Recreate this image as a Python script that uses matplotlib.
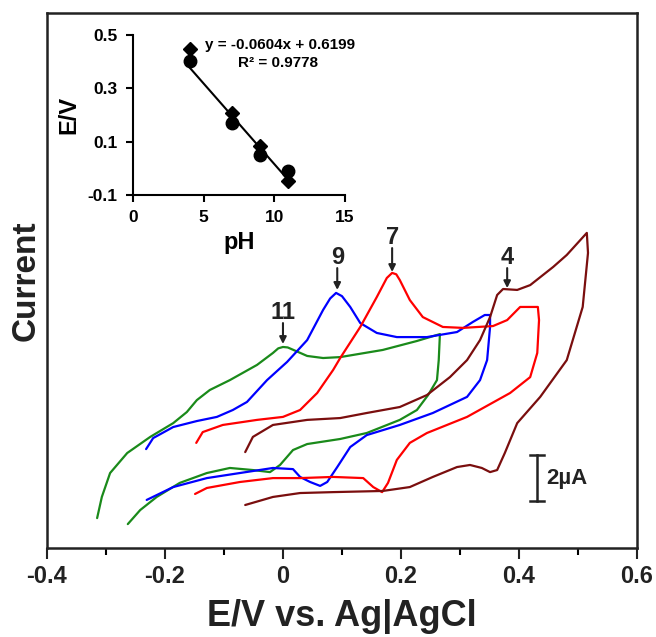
import numpy as np
import matplotlib
matplotlib.use('Agg')
import matplotlib.pyplot as plt

plt.rcParams['font.family'] = ['Liberation Sans', 'DejaVu Sans']
plt.rcParams['font.weight'] = 'bold'

# CV curves: potential (V vs Ag|AgCl) and current (uA, arbitrary offset)
E_pH11 = [-0.315, -0.307, -0.293, -0.264, -0.225, -0.186, -0.163, -0.146, -0.124, -0.090,
          -0.044, -0.017, -0.008, 0.000, 0.008, 0.017, 0.041, 0.068, 0.097, 0.169, 0.227, 0.266,
          0.264, 0.261, 0.246, 0.227, 0.198, 0.142, 0.097, 0.041, 0.017, -0.005,
          -0.022, -0.051, -0.090, -0.129, -0.175, -0.214, -0.242, -0.263]
I_pH11 = [1.30, 2.22, 3.26, 4.13, 4.83, 5.43, 5.91, 6.43, 6.87, 7.30,
          7.96, 8.48, 8.68, 8.74, 8.72, 8.62, 8.35, 8.26, 8.30, 8.61, 9.00, 9.30,
          8.17, 7.30, 6.65, 6.00, 5.57, 5.00, 4.74, 4.52, 4.26, 3.61,
          3.30, 3.39, 3.48, 3.26, 2.83, 2.22, 1.65, 1.04]

E_pH9 = [-0.232, -0.220, -0.186, -0.146, -0.112, -0.085, -0.061, -0.027, 0.007, 0.041,
         0.068, 0.080, 0.090, 0.100, 0.114, 0.131, 0.159, 0.193, 0.244, 0.295, 0.322, 0.342, 0.351,
         0.351, 0.346, 0.334, 0.312, 0.254, 0.198, 0.142, 0.114, 0.092, 0.075,
         0.063, 0.046, 0.029, 0.017, -0.017, -0.073, -0.129, -0.186, -0.231]
I_pH9 = [4.30, 4.78, 5.26, 5.52, 5.70, 6.00, 6.35, 7.30, 8.09, 9.04,
         10.35, 10.85, 11.09, 10.95, 10.48, 9.78, 9.35, 9.17, 9.17, 9.39, 9.83, 10.13, 10.13,
         9.61, 8.17, 7.30, 6.57, 5.87, 5.35, 4.91, 4.39, 3.52, 2.87,
         2.70, 2.87, 3.09, 3.43, 3.48, 3.26, 3.04, 2.65, 2.09]

E_pH7 = [-0.147, -0.136, -0.102, -0.044, 0.000, 0.029, 0.058, 0.085, 0.097, 0.131,
         0.159, 0.176, 0.185, 0.192, 0.198, 0.215, 0.237, 0.271, 0.305, 0.356, 0.380,
         0.402, 0.432, 0.434, 0.431, 0.419, 0.385, 0.312, 0.244, 0.215, 0.193,
         0.178, 0.168, 0.153, 0.136, 0.085, 0.029, -0.017, -0.073, -0.129, -0.149]
I_pH7 = [4.57, 5.04, 5.35, 5.57, 5.70, 6.00, 6.74, 7.74, 8.26, 9.61,
         10.91, 11.74, 11.96, 11.90, 11.65, 10.78, 10.04, 9.61, 9.57, 9.65, 9.91,
         10.48, 10.48, 9.91, 8.48, 7.43, 6.74, 5.70, 5.00, 4.57, 3.83,
         2.83, 2.43, 2.65, 3.04, 3.09, 3.04, 3.04, 2.87, 2.61, 2.35]

E_pH4 = [-0.064, -0.051, -0.017, 0.041, 0.097, 0.142, 0.198, 0.244, 0.283, 0.312,
         0.334, 0.351, 0.363, 0.373, 0.397, 0.419, 0.458, 0.481, 0.515,
         0.517, 0.508, 0.481, 0.436, 0.397, 0.376, 0.363, 0.351, 0.337, 0.317,
         0.295, 0.254, 0.215, 0.169, 0.085, 0.029, -0.017, -0.064]
I_pH4 = [4.17, 4.83, 5.35, 5.57, 5.65, 5.87, 6.13, 6.65, 7.43, 8.17,
         9.04, 10.04, 11.00, 11.26, 11.22, 11.43, 12.22, 12.74, 13.70,
         12.83, 10.48, 8.17, 6.57, 5.43, 4.13, 3.39, 3.30, 3.48, 3.61,
         3.52, 3.09, 2.65, 2.48, 2.43, 2.39, 2.22, 1.87]

# peak labels: text, potential, label height, arrow top, arrow tip
peak_text = ['11', '9', '7', '4']
peak_E = [0.000, 0.092, 0.185, 0.380]
peak_lab = [10.26, 12.65, 13.52, 12.61]
arrow_top = [9.78, 12.17, 13.04, 12.17]
arrow_tip = [8.87, 11.22, 12.00, 11.30]

# inset: peak potential vs pH
pH = [4, 7, 9, 11]
E_diamond = [0.447, 0.208, 0.084, -0.047]
E_circle = [0.401, 0.170, 0.051, -0.010]
slope, intercept = -0.0604, 0.6199

fig = plt.figure(figsize=(6.56, 6.37), dpi=100)
ax = fig.add_axes([0.0716, 0.1397, 0.8994, 0.8399])

line_kw = dict(lw=1.6, solid_joinstyle='round', solid_capstyle='round')
ax.plot(E_pH11, I_pH11, color='#1a8a1a', **line_kw)
ax.plot(E_pH9, I_pH9, color='#0000ff', **line_kw)
ax.plot(E_pH7, I_pH7, color='#ff0000', **line_kw)
ax.plot(E_pH4, I_pH4, color='#7a0e0e', **line_kw)

for t, e, yl, ya, yt in zip(peak_text, peak_E, peak_lab, arrow_top, arrow_tip):
    ax.text(e, yl, t, ha='center', va='center', fontsize=17, fontweight='bold', color='#222222')
    ax.annotate('', xy=(e, yt), xytext=(e, ya),
                arrowprops=dict(arrowstyle='-|>', color='#222222', lw=1.5,
                                mutation_scale=10, shrinkA=0, shrinkB=0))

# 2 uA scale bar
ax.plot([0.431, 0.431], [2.04, 4.04], color='#222222', lw=1.8)
ax.plot([0.419, 0.443], [4.04, 4.04], color='#222222', lw=1.8)
ax.plot([0.419, 0.443], [2.04, 2.04], color='#222222', lw=1.8)
ax.text(0.446, 3.04, '2µA', ha='left', va='center', fontsize=16, fontweight='bold', color='#222222')

ax.set_xlim(-0.4, 0.6)
ax.set_ylim(0, 23.26)
ax.set_xticks(np.arange(-0.4, 0.61, 0.2))
ax.set_xticklabels(['-0.4', '-0.2', '0', '0.2', '0.4', '0.6'])
ax.set_xticks(np.arange(-0.3, 0.6, 0.2), minor=True)
ax.set_yticks([])
ax.tick_params(axis='x', which='major', direction='out', length=8, width=1.5,
               labelsize=17, colors='#222222', pad=4)
ax.tick_params(axis='x', which='minor', direction='out', length=5, width=1.5)
for s in ax.spines.values():
    s.set_linewidth(1.8)
    s.set_color('#222222')
ax.set_xlabel('E/V vs. Ag|AgCl', fontsize=26, fontweight='bold', color='#222222', labelpad=8)
ax.set_ylabel('Current', fontsize=24, fontweight='bold', color='#222222', labelpad=4)

# inset
ins = fig.add_axes([0.2027, 0.6939, 0.3232, 0.2512])
ins.plot(pH, E_diamond, 'D', color='k', ms=7)
ins.plot(pH, E_circle, 'o', color='k', ms=9)
xf = np.array([pH[0], pH[-1]])
ins.plot(xf, slope * xf + intercept, color='k', lw=1.5)
ins.text(5.1, 0.4625, 'y = -0.0604x + 0.6199', fontsize=11, fontweight='bold', va='center', ha='left')
ins.text(10.26, 0.395, 'R² = 0.9778', fontsize=11, fontweight='bold', va='center', ha='center')
ins.set_xlim(0, 15)
ins.set_ylim(-0.1, 0.5)
ins.set_xticks([0, 5, 10, 15])
ins.set_yticks([-0.1, 0.1, 0.3, 0.5])
ins.set_yticklabels(['-0.1', '0.1', '0.3', '0.5'])
ins.tick_params(direction='out', length=5, width=1.5, labelsize=12.5)
ins.tick_params(axis='y', pad=6)
ins.tick_params(axis='x', pad=6)
ins.spines['top'].set_visible(False)
ins.spines['right'].set_visible(False)
ins.spines['left'].set_linewidth(1.5)
ins.spines['bottom'].set_linewidth(1.5)
ins.patch.set_alpha(0)
ins.set_xlabel('pH', fontsize=17, fontweight='bold', labelpad=4)
ins.set_ylabel('E/V', fontsize=17, fontweight='bold', labelpad=5)

fig.savefig('out.png', dpi=100)
